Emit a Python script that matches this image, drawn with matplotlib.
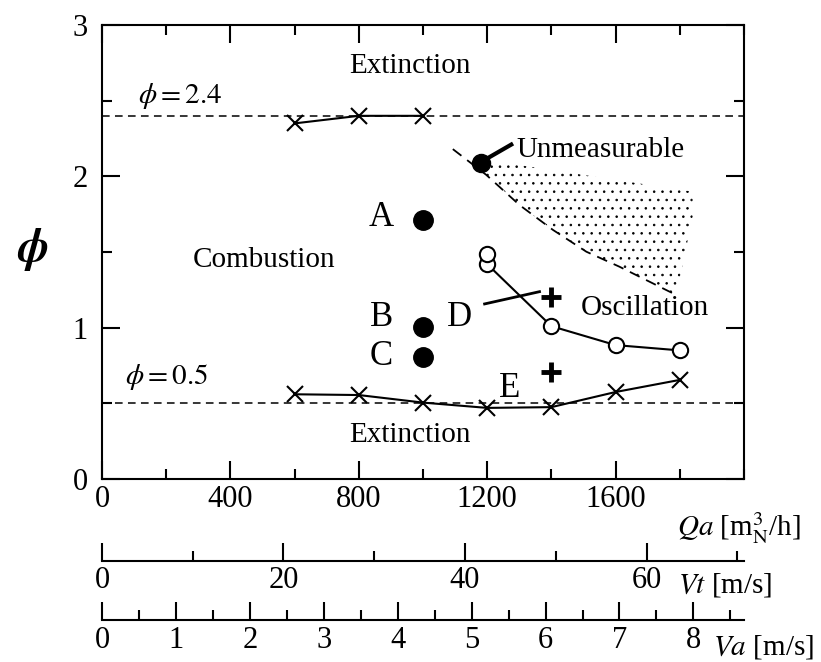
import matplotlib
matplotlib.use("Agg")
import matplotlib.pyplot as plt
from matplotlib.patches import Polygon
from matplotlib.ticker import MultipleLocator

plt.rcParams["font.family"] = "serif"
plt.rcParams["font.serif"] = ["Liberation Serif", "DejaVu Serif"]
plt.rcParams["mathtext.fontset"] = "stix"
plt.rcParams["hatch.linewidth"] = 0.6

# rich / lean extinction limits (crosses)
rich_qa = [600, 800, 1000]
rich_phi = [2.35, 2.40, 2.40]
lean_qa = [600, 800, 1000, 1200, 1400, 1600, 1800]
lean_phi = [0.56, 0.555, 0.505, 0.47, 0.475, 0.575, 0.655]

# oscillation onset (open circles)
osc_qa = [1200, 1400, 1600, 1800]
osc_phi = [1.42, 1.01, 0.885, 0.85]
osc_extra_qa = [1200]
osc_extra_phi = [1.49]

# cases A, B, C and the unmeasurable point (filled circles)
case_qa = [1000, 1000, 1000]
case_phi = [1.71, 1.005, 0.805]
case_names = ["A", "B", "C"]
unmeas_qa = [1180]
unmeas_phi = [2.09]

# cases D, E (plus)
plus_qa = [1400, 1400]
plus_phi = [1.205, 0.705]

# boundary of the unmeasurable region
bound_qa = [1093, 1197, 1301, 1405, 1509, 1612, 1716, 1789]
bound_phi = [2.18, 2.01, 1.81, 1.646, 1.502, 1.403, 1.293, 1.216]
# remaining edges of the stippled area (right side, then top back to the dot)
stip_qa = [1840, 1840, 1197]
stip_phi = [1.734, 1.899, 2.108]

# leader lines
unmeas_lead_qa = [1185, 1275]
unmeas_lead_phi = [2.10, 2.21]
d_lead_qa = [1192, 1363]
d_lead_phi = [1.157, 1.238]

phi_rich = 2.4
phi_lean = 0.5

# secondary velocity scales
vt_per_qa = 0.03537
va_per_qa = 0.004342

fig = plt.figure(figsize=(8.21, 6.62), dpi=100)
ax = fig.add_axes([0.1242, 0.2764, 0.782, 0.6858])

dash = (0, (5, 3.5))
ax.axhline(phi_rich, color="k", lw=1.1, ls=dash, zorder=1)
ax.axhline(phi_lean, color="k", lw=1.1, ls=dash, zorder=1)

verts = list(zip(bound_qa[1:], bound_phi[1:])) + list(zip(stip_qa, stip_phi))
ax.add_patch(Polygon(verts, closed=True, facecolor="none", edgecolor="k",
                     lw=0, hatch="..", zorder=0))
ax.plot(bound_qa, bound_phi, color="k", lw=1.3, ls=(0, (6, 4)))

ax.plot(rich_qa, rich_phi, "k-x", lw=1.5, ms=11, mew=1.5)
ax.plot(lean_qa, lean_phi, "k-x", lw=1.5, ms=11, mew=1.5)
ax.plot(osc_qa, osc_phi, "k-o", lw=1.5, ms=11, mew=1.5, mfc="white")
ax.plot(osc_extra_qa, osc_extra_phi, "ko", ms=11, mew=1.5, mfc="white")
ax.plot(case_qa, case_phi, "ko", ms=14)
ax.plot(unmeas_qa, unmeas_phi, "ko", ms=13)
ax.plot(plus_qa, plus_phi, "k+", ms=15, mew=3.5)
ax.plot(unmeas_lead_qa, unmeas_lead_phi, "k-", lw=3)
ax.plot(d_lead_qa, d_lead_phi, "k-", lw=2)

fs = 21
ax.text(960, 2.73, "Extinction", fontsize=fs, ha="center", va="center")
ax.text(960, 0.29, "Extinction", fontsize=fs, ha="center", va="center")
ax.text(504, 1.45, "Combustion", fontsize=fs, ha="center", va="center")
ax.text(1690, 1.13, "Oscillation", fontsize=fs, ha="center", va="center")
ax.text(1290, 2.175, "Unmeasurable", fontsize=fs, ha="left", va="center")
ax.text(112, 2.53, r"$\phi = 2.4$", fontsize=fs, ha="left", va="center")
ax.text(72, 0.676, r"$\phi = 0.5$", fontsize=fs, ha="left", va="center")
for name, phi in zip(case_names, [1.73, 1.07, 0.81]):
    ax.text(870, phi, name, fontsize=25, ha="center", va="center")
ax.text(1114, 1.07, "D", fontsize=25, ha="center", va="center")
ax.text(1270, 0.60, "E", fontsize=25, ha="center", va="center")

ax.set_xlim(0, 2000)
ax.set_ylim(0, 3)
ax.set_xticks([0, 400, 800, 1200, 1600])
ax.xaxis.set_minor_locator(MultipleLocator(200))
ax.set_yticks([0, 1, 2, 3])
ax.yaxis.set_minor_locator(MultipleLocator(0.5))
ax.tick_params(which="both", direction="in", top=True, right=True, width=1.5,
               labelsize=22)
ax.tick_params(which="major", length=13)
ax.tick_params(which="minor", length=7)
ax.tick_params(axis="x", pad=4)
ax.tick_params(axis="y", pad=10)
for sp in ax.spines.values():
    sp.set_linewidth(1.5)

ax.set_ylabel(r"$\boldsymbol{\phi}$", fontsize=34, rotation=0, labelpad=14,
              va="center")
ax.yaxis.set_label_coords(-0.108, 0.505)

ax.text(1.089, -0.108, r"$Qa$ [m$^{3}_{\mathrm{N}}$/h]", transform=ax.transAxes,
        fontsize=fs, ha="right", va="center")

sec_vt = ax.secondary_xaxis(-0.18, functions=(lambda q: q * vt_per_qa,
                                              lambda v: v / vt_per_qa))
sec_vt.set_xticks([0, 20, 40, 60])
sec_vt.xaxis.set_minor_locator(MultipleLocator(10))

sec_va = ax.secondary_xaxis(-0.3106, functions=(lambda q: q * va_per_qa,
                                                lambda v: v / va_per_qa))
sec_va.set_xticks(range(9))
sec_va.xaxis.set_minor_locator(MultipleLocator(0.5))

for sec in (sec_vt, sec_va):
    sec.tick_params(which="both", direction="in", width=1.5, labelsize=22, pad=4)
    sec.tick_params(which="major", length=13)
    sec.tick_params(which="minor", length=7)
    sec.spines["bottom"].set_linewidth(1.5)

ax.text(0.897, -0.2335, r"$Vt$ [m/s]", transform=ax.transAxes, fontsize=fs,
        ha="left", va="center")
ax.text(0.9517, -0.37, r"$Va$ [m/s]", transform=ax.transAxes, fontsize=fs,
        ha="left", va="center")

fig.savefig("out.png", dpi=100)
